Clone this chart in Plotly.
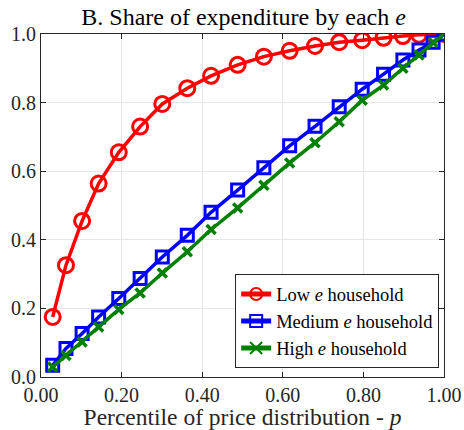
import plotly.graph_objects as go

p = [0.029, 0.062, 0.102, 0.143, 0.193, 0.246, 0.301, 0.363, 0.422, 0.488,
     0.553, 0.617, 0.680, 0.740, 0.797, 0.850, 0.898, 0.938, 0.973, 1.0]
low_e = [0.175, 0.326, 0.455, 0.564, 0.655, 0.730, 0.796, 0.842, 0.878, 0.910,
         0.934, 0.951, 0.965, 0.976, 0.982, 0.989, 0.994, 0.998, 0.999, 1.0]
med_e = [0.034, 0.083, 0.127, 0.175, 0.229, 0.287, 0.350, 0.413, 0.480, 0.545,
         0.610, 0.674, 0.731, 0.788, 0.839, 0.883, 0.924, 0.953, 0.976, 1.0]
high_e = [0.029, 0.063, 0.102, 0.146, 0.197, 0.245, 0.303, 0.365, 0.430, 0.493,
          0.559, 0.624, 0.683, 0.744, 0.807, 0.851, 0.900, 0.939, 0.975, 1.0]

FONT = "Times New Roman, Liberation Serif, DejaVu Serif, serif"
fig = go.Figure()
fig.add_trace(go.Scatter(x=p, y=low_e, mode="lines+markers", name="Low <i>e</i> household",
                         line=dict(color="#ff0000", width=3.5),
                         marker=dict(symbol="circle-open", size=15, line=dict(width=3, color="#ff0000"))))
fig.add_trace(go.Scatter(x=p, y=med_e, mode="lines+markers", name="Medium <i>e</i> household",
                         line=dict(color="#0000ff", width=3.5),
                         marker=dict(symbol="square-open", size=12, line=dict(width=3, color="#0000ff"))))
fig.add_trace(go.Scatter(x=p, y=high_e, mode="lines+markers", name="High <i>e</i> household",
                         line=dict(color="#008000", width=3.5),
                         marker=dict(symbol="x-thin-open", size=9, line=dict(width=3.5, color="#008000"))))

axis_common = dict(showline=True, linecolor="#262626", linewidth=1, mirror="ticks",
                   ticks="inside", ticklen=5, tickcolor="#262626", automargin=False,
                   showgrid=True, gridcolor="#e6e6e6", gridwidth=1, zeroline=False,
                   tickfont=dict(family=FONT, size=20, color="#262626"))
fig.update_xaxes(range=[0, 1], tickvals=[0, 0.2, 0.4, 0.6, 0.8, 1.0], tickformat=".2f",
                 title=dict(text="Percentile of price distribution - <i>p</i>",
                            font=dict(family=FONT, size=23.5, color="#262626"), standoff=10),
                 **axis_common)
fig.update_yaxes(range=[0, 1], tickvals=[0, 0.2, 0.4, 0.6, 0.8, 1.0], tickformat=".1f",
                 **axis_common)
fig.update_layout(
    width=464, height=430,
    margin=dict(l=41, r=20, t=34, b=53, autoexpand=False),
    paper_bgcolor="white", plot_bgcolor="white",
    font=dict(family=FONT),
    title=dict(text="B. Share of expenditure by each <i>e</i>", x=0.525, xanchor="center",
               y=0.962, yanchor="middle", font=dict(family=FONT, size=24, color="black")),
    legend=dict(x=0.988, y=0.025, xanchor="right", yanchor="bottom",
                bgcolor="white", bordercolor="#262626", borderwidth=1,
                font=dict(family=FONT, size=18.5, color="black"),
                itemwidth=30, tracegroupgap=0, itemsizing="constant"),
    showlegend=True,
)
fig.write_html("out.html", config={"displayModeBar": False},
               post_script="document.body.style.margin='0';")
